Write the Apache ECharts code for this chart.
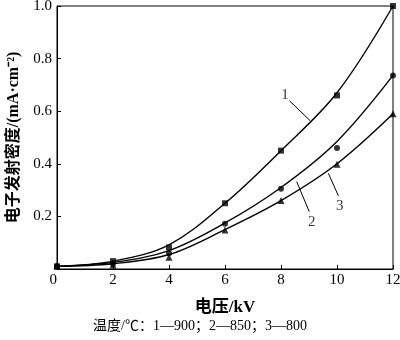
<!DOCTYPE html>
<html><head><meta charset="utf-8">
<script src="https://cdn.jsdelivr.net/npm/echarts@6/dist/echarts.min.js"></script>
<style>html,body{margin:0;padding:0;background:#fff}#c{width:400px;height:340px}</style>
</head><body><div id="c"></div>
<script>
// Voltage (kV)
const voltage = [0, 2, 4, 6, 8, 10, 12];
// Measured points
const points1 = [0.01, 0.03, 0.082, 0.25, 0.45, 0.66, 1.0];
const points2 = [0.01, 0.02, 0.06, 0.172, 0.305, 0.46, 0.736];
const points3 = [0.01, 0.015, 0.045, 0.148, 0.26, 0.398, 0.59];
// Fitted curves
const curve1 = [0.01, 0.03, 0.092, 0.25, 0.45, 0.67, 1.0];
const curve2 = [0.01, 0.025, 0.07, 0.175, 0.31, 0.485, 0.736];
const curve3 = [0.01, 0.02, 0.055, 0.15, 0.26, 0.40, 0.59];
// Curve labels and leader lines [x, y]
const labelNames = ['1', '2', '3'];
const labelPos = [[8.14, 0.662], [9.1, 0.18], [10.1, 0.24]];
const leaderStart = [[8.30, 0.640], [9.01, 0.218], [10.05, 0.278]];
const leaderEnd = [[9.04, 0.564], [8.56, 0.332], [9.69, 0.364]];
const xTicks = [0, 2, 4, 6, 8, 10, 12];
const yTicks = [0, 0.2, 0.4, 0.6, 0.8, 1.0];

const serif = 'Liberation Serif';
const mixed = '"Liberation Serif", "Noto Sans CJK SC"';
const pair = (xs, ys) => xs.map((x, i) => [x, ys[i]]);

const curveSeries = [curve1, curve2, curve3].map(c => ({
  type: 'line', data: pair(voltage, c), smooth: 0.35, showSymbol: false,
  lineStyle: { color: '#000', width: 1.4 }, z: 2, silent: true
}));
const symbols = ['rect', 'circle', 'triangle'];
const pointSeries = [points1, points2, points3].map((p, i) => ({
  type: 'scatter', data: pair(voltage, p), symbol: symbols[i],
  symbolSize: i === 2 ? 7 : 6, itemStyle: { color: '#000' }, z: 3
}));
const leaderSeries = {
  type: 'line', data: [], silent: true,
  markLine: {
    symbol: 'none', silent: true, animation: false,
    lineStyle: { color: '#000', width: 1, type: 'solid' }, label: { show: false },
    data: leaderStart.map((s, i) => [{ coord: s }, { coord: leaderEnd[i] }])
  }
};
const labelSeries = {
  type: 'scatter', symbolSize: 0, silent: true,
  data: labelPos.map((p, i) => ({ value: p, name: labelNames[i] })),
  label: { show: true, position: 'inside', formatter: '{b}', color: '#000',
    fontFamily: serif, fontSize: 15 }
};

const chart = echarts.init(document.getElementById('c'));
chart.setOption({
  animation: false,
  grid: { left: 57, right: 7, top: 6, bottom: 71, show: true, borderColor: '#000', borderWidth: 1,
    containLabel: false, outerBoundsMode: 'none' },
  xAxis: {
    type: 'value', min: 0, max: 12, interval: 2,
    axisLine: { show: true, lineStyle: { color: '#000', width: 1 } },
    axisTick: { show: true, inside: true, length: 4, lineStyle: { color: '#000' } },
    splitLine: { show: false },
    axisLabel: { color: '#000', fontFamily: serif, fontSize: 15, margin: 4,
      alignMinLabel: 'right', formatter: v => xTicks.includes(v) ? String(v) : '' },
    name: '电压/kV', nameLocation: 'middle', nameGap: 30,
    nameTextStyle: { color: '#000', fontFamily: mixed, fontSize: 17, fontWeight: 'bold' }
  },
  yAxis: {
    type: 'value', min: 0, max: 1.0, interval: 0.2,
    axisLine: { show: true, lineStyle: { color: '#000', width: 1 } },
    axisTick: { show: true, inside: true, length: 4, lineStyle: { color: '#000' } },
    splitLine: { show: false },
    axisLabel: { color: '#000', fontFamily: serif, fontSize: 15, margin: 5, showMinLabel: false,
      formatter: v => yTicks.some(t => Math.abs(t - v) < 1e-9) ? v.toFixed(1) : '' },
    name: '电子发射密度/(mA·cm⁻²)', nameLocation: 'middle', nameGap: 31,
    nameTextStyle: { color: '#000', fontFamily: mixed, fontSize: 16, fontWeight: 'bold' }
  },
  graphic: [{
    type: 'text', left: 'center', top: 319,
    style: { text: '温度/℃：1—900；2—850；3—800', fill: '#000',
      font: '14px "Liberation Serif", "Noto Sans CJK SC"' }
  }],
  series: [...curveSeries, ...pointSeries, leaderSeries, labelSeries]
});
</script></body></html>
